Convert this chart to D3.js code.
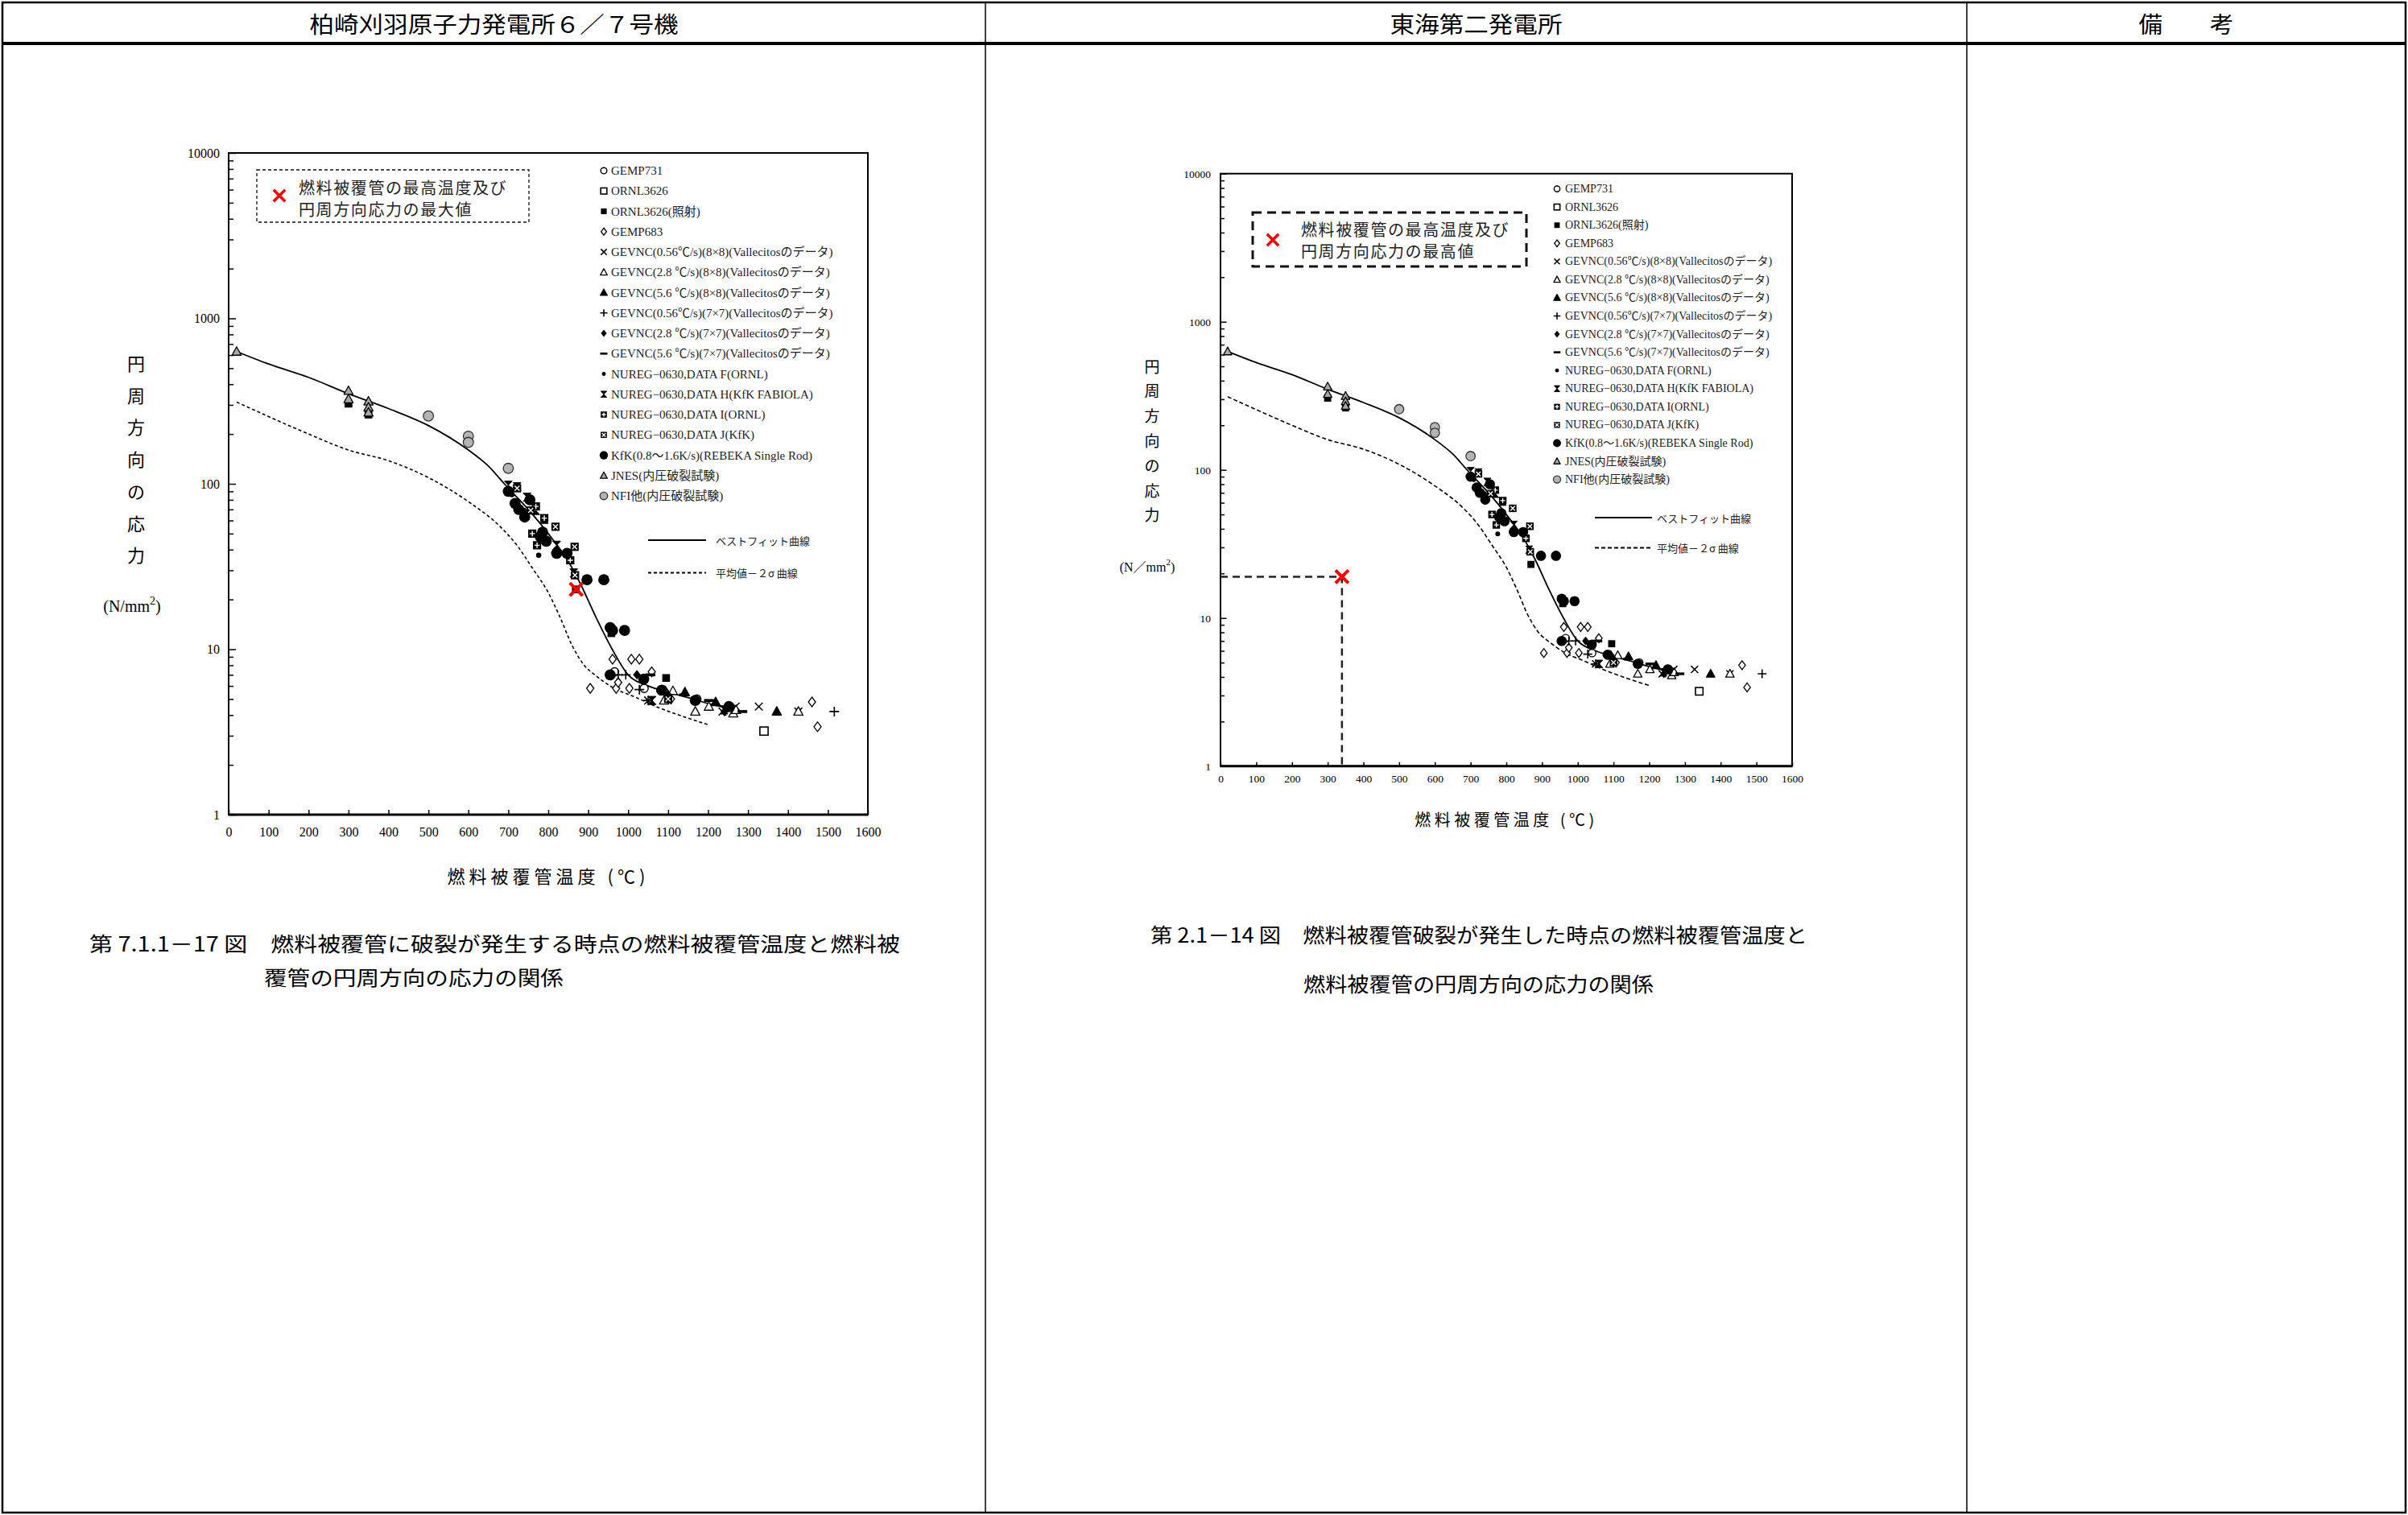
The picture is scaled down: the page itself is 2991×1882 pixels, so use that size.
<!DOCTYPE html>
<html>
<head>
<meta charset="utf-8">
<script src="https://cdn.jsdelivr.net/npm/d3@7"></script>
<style>body{margin:0;background:#fff}</style>
</head>
<body>
<div id="page"></div>
<script>
var W = 2991, H = 1882;
var serif = '"Liberation Serif","Noto Sans CJK JP",serif';
var gothic = '"Noto Sans CJK JP",sans-serif';

// ---- data (temperature degC, hoop stress N/mm2) ----
var xTicks = d3.range(0, 1700, 100);
var yTicks = [1, 10, 100, 1000, 10000];

var gemp731 = [[966,7.3],[1040,5.8],[1172,5.0]];
var ornl3626 = [[1340,3.2]];
var ornl3626irr = [[300,305],[350,262],[869,23],[958,12.5],[1095,6.7]];
var gemp683 = [[905,5.8],[961,8.7],[1008,8.7],[1028,8.7],[1059,7.3],[970,5.8],[1003,5.8],[1107,5.0],[1460,4.8],[1474,3.4],[975,6.3],[1092,5.6]];
var gevnc056_8 = [[1236,4.2],[1269,4.5],[1327,4.5],[1050,4.9],[1100,5.0],[1426,4.2]];
var gevnc28_8 = [[1090,4.9],[1112,5.6],[1168,4.2],[1202,4.5],[1263,4.1],[1426,4.2],[1270,4.3]];
var gevnc56_8 = [[1142,5.5],[1219,4.8],[1252,4.5],[1372,4.2]];
var gevnc056_7 = [[994,7.0],[1028,5.7],[1050,4.9],[1516,4.2],[975,7.0]];
var gevnc28_7 = [[1022,7.0],[1079,5.6],[1241,4.2],[1100,5.3]];
var gevnc56_7 = [[1056,7.0],[1202,4.9],[1286,4.2],[1140,5.3]];
var nuregF = [[776,37],[739,69],[709,86]];
var nuregH = [[700,98],[722,96],[747,83],[769,69],[790,61],[821,42.5],[864,28.9],[1060,4.9],[1240,4.3]];
var nuregI = [[769,73],[790,62],[760,50],[772,42.5],[855,34.5]];
var nuregJ = [[722,94],[756,69],[818,55],[866,41.6],[867,28],[1100,5.0]];
var kfk = [[700,90],[717,76],[726,70],[741,63],[754,80],[786,51],[780,48],[795,45],[821,38],[847,38],[897,26.3],[939,26.3],[961,13],[955,13.5],[991,13],[955,7.0],[1039,6.6],[1084,5.65],[1168,4.9],[1252,4.5]];
var jnes = [[20,630],[300,365],[300,325],[350,315],[350,290],[350,270]];
var nfi = [[500,257],[600,194],[600,178],[700,124]];

var bestFit = [[20,630],[100,530],[200,440],[300,350],[400,285],[500,225],[600,160],[650,128],[690,100],[750,70],[800,50],[850,34],[880,25],[920,15.5],[960,10],[1000,7.0],[1050,6.0],[1100,5.5],[1150,5.1],[1200,4.7],[1270,4.3]];
var minus2s = [[20,312],[100,255],[200,200],[300,160],[400,138],[500,109],[600,78],[680,55],[720,43],[760,31],[800,22],[830,15.5],[860,10.5],[890,8],[920,6.9],[960,5.9],[1020,5.1],[1080,4.4],[1140,3.9],[1200,3.5]];

var seriesNames = ["GEMP731","ORNL3626","ORNL3626(照射)","GEMP683",
  "GEVNC(0.56℃/s)(8×8)(Vallecitosのデータ)","GEVNC(2.8 ℃/s)(8×8)(Vallecitosのデータ)",
  "GEVNC(5.6 ℃/s)(8×8)(Vallecitosのデータ)","GEVNC(0.56℃/s)(7×7)(Vallecitosのデータ)",
  "GEVNC(2.8 ℃/s)(7×7)(Vallecitosのデータ)","GEVNC(5.6 ℃/s)(7×7)(Vallecitosのデータ)",
  "NUREG−0630,DATA F(ORNL)","NUREG−0630,DATA H(KfK FABIOLA)","NUREG−0630,DATA I(ORNL)",
  "NUREG−0630,DATA J(KfK)","KfK(0.8〜1.6K/s)(REBEKA Single Rod)","JNES(内圧破裂試験)","NFI他(内圧破裂試験)"];
var seriesData = [gemp731, ornl3626, ornl3626irr, gemp683, gevnc056_8, gevnc28_8, gevnc56_8,
  gevnc056_7, gevnc28_7, gevnc56_7, nuregF, nuregH, nuregI, nuregJ, kfk, jnes, nfi];
var seriesSymbols = ["circleOpen","squareOpen","squareFill","diamondOpen","cross","triOpen","triFill",
  "plus","diamondFill","dash","dot","hourglass","boxPlus","boxX","bigDot","triGray","circleGray"];

var headers = ["柏崎刈羽原子力発電所６／７号機", "東海第二発電所", "備　　考"];

// ---- page ----
var svg = d3.select("#page").append("svg")
    .attr("width", W).attr("height", H)
    .style("display", "block");
svg.append("rect").attr("width", W).attr("height", H).attr("fill", "#fff");

// table grid
var colX = [3, 1224, 2443, 2988];
svg.append("rect").attr("x", 3).attr("y", 3).attr("width", 2985).attr("height", 1876)
    .attr("fill", "none").attr("stroke", "#000").attr("stroke-width", 2.5);
svg.append("line").attr("x1", 3).attr("x2", 2988).attr("y1", 54).attr("y2", 54)
    .attr("stroke", "#000").attr("stroke-width", 4);
[1224, 2443].forEach(function(cx){
  svg.append("line").attr("x1", cx).attr("x2", cx).attr("y1", 3).attr("y2", 1879)
     .attr("stroke", "#000").attr("stroke-width", 1.5);
});
var headW = [458, 214, 118];
headers.forEach(function(h, i){
  svg.append("text").attr("x", (colX[i] + colX[i+1]) / 2).attr("y", 29)
     .attr("text-anchor", "middle").attr("dominant-baseline", "central")
     .attr("font-family", gothic).attr("font-size", 28)
     .attr("textLength", headW[i]).attr("lengthAdjust", "spacingAndGlyphs")
     .text(h);
});

function drawSymbol(g, type, s) {
  var k = "#000";
  if (type === "circleOpen") g.append("circle").attr("r", s*0.85).attr("fill", "#fff").attr("stroke", k).attr("stroke-width", 1.4);
  else if (type === "squareOpen") g.append("rect").attr("x", -s*0.85).attr("y", -s*0.85).attr("width", s*1.7).attr("height", s*1.7).attr("fill", "#fff").attr("stroke", k).attr("stroke-width", 1.6);
  else if (type === "squareFill") g.append("rect").attr("x", -s*0.8).attr("y", -s*0.8).attr("width", s*1.6).attr("height", s*1.6).attr("fill", k);
  else if (type === "diamondOpen") g.append("path").attr("d", `M0,${-s}L${s*0.75},0L0,${s}L${-s*0.75},0Z`).attr("fill", "#fff").attr("stroke", k).attr("stroke-width", 1.3);
  else if (type === "diamondFill") g.append("path").attr("d", `M0,${-s}L${s*0.8},0L0,${s}L${-s*0.8},0Z`).attr("fill", k);
  else if (type === "cross") g.append("path").attr("d", `M${-s*0.8},${-s*0.8}L${s*0.8},${s*0.8}M${-s*0.8},${s*0.8}L${s*0.8},${-s*0.8}`).attr("stroke", k).attr("stroke-width", 1.5);
  else if (type === "plus") g.append("path").attr("d", `M${-s},0H${s}M0,${-s}V${s}`).attr("stroke", k).attr("stroke-width", 1.6);
  else if (type === "triOpen" || type === "triFill" || type === "triGray")
    g.append("path").attr("d", `M0,${-s}L${s*0.95},${s*0.75}L${-s*0.95},${s*0.75}Z`)
     .attr("fill", type === "triOpen" ? "#fff" : type === "triFill" ? k : "#a8a8a8")
     .attr("stroke", k).attr("stroke-width", 1.3).attr("stroke-linejoin", "round");
  else if (type === "dash") g.append("rect").attr("x", -s).attr("y", -s*0.3).attr("width", s*2).attr("height", s*0.6).attr("fill", k);
  else if (type === "dot") g.append("circle").attr("r", s*0.55).attr("fill", k);
  else if (type === "bigDot") g.append("circle").attr("r", s*1.15).attr("fill", k);
  else if (type === "circleGray") g.append("circle").attr("r", s*1.05).attr("fill", "#b4b4b4").attr("stroke", "#333").attr("stroke-width", 1.3);
  else if (type === "hourglass") {
    g.append("path").attr("d", `M${-s*0.8},${-s*0.85}H${s*0.8}L${-s*0.8},${s*0.85}H${s*0.8}Z`).attr("fill", k).attr("stroke", k).attr("stroke-width", 1);
  } else if (type === "boxPlus" || type === "boxX") {
    g.append("rect").attr("x", -s*0.85).attr("y", -s*0.85).attr("width", s*1.7).attr("height", s*1.7).attr("fill", k);
    g.append("path").attr("d", type === "boxPlus"
        ? `M${-s*0.55},0H${s*0.55}M0,${-s*0.55}V${s*0.55}`
        : `M${-s*0.5},${-s*0.5}L${s*0.5},${s*0.5}M${-s*0.5},${s*0.5}L${s*0.5},${-s*0.5}`)
     .attr("stroke", "#fff").attr("stroke-width", 1.4);
  }
}

function redCross(g, cx, cy, s, w) {
  g.append("path").attr("d", `M${cx-s},${cy-s}L${cx+s},${cy+s}M${cx-s},${cy+s}L${cx+s},${cy-s}`)
   .attr("stroke", "#ff0000").attr("stroke-width", w).attr("fill", "none");
}

function drawChart(c) {
  var x = d3.scaleLinear().domain([0, 1600]).range([c.x0, c.x1]);
  var y = d3.scaleLog().domain([1, 10000]).range([c.yBot, c.yTop]);
  var g = svg.append("g");

  // x axis (ticks inside)
  g.append("g").attr("transform", `translate(0,${c.yBot})`)
    .call(d3.axisBottom(x).tickValues(xTicks).tickFormat(d3.format("d"))
      .tickSize(-c.tick).tickSizeOuter(0).tickPadding(c.xPad))
    .call(a => a.select(".domain").remove())
    .call(a => a.selectAll("line").attr("stroke", "#000").attr("stroke-width", 1.5))
    .call(a => a.selectAll("text").attr("font-family", serif).attr("font-size", c.tickFont).attr("fill", "#000"));

  // y axis (log, minor ticks inside)
  g.append("g").attr("transform", `translate(${c.x0},0)`)
    .call(d3.axisLeft(y).tickValues(y.ticks()).tickSize(-c.tick).tickSizeOuter(0).tickPadding(c.yPad)
      .tickFormat(d => yTicks.indexOf(d) >= 0 ? d : ""))
    .call(a => a.select(".domain").remove())
    .call(a => a.selectAll("line").attr("stroke", "#000").attr("stroke-width", 1.5)
      .attr("x2", d => yTicks.indexOf(d) >= 0 ? c.tick * 1.5 : c.tick))
    .call(a => a.selectAll("text").attr("font-family", serif).attr("font-size", c.tickFont).attr("fill", "#000"));

  // frame
  g.append("rect").attr("x", c.x0).attr("y", c.yTop).attr("width", c.x1 - c.x0).attr("height", c.yBot - c.yTop)
    .attr("fill", "none").attr("stroke", "#000").attr("stroke-width", c.frameW);
  g.append("line").attr("x1", c.x0).attr("x2", c.x1).attr("y1", c.yBot).attr("y2", c.yBot)
    .attr("stroke", "#000").attr("stroke-width", c.frameW + 1);

  // axis titles
  "円周方向の応力".split("").forEach(function(ch, i){
    g.append("text").attr("x", c.yLabelX).attr("y", c.yLabelY0 + i * c.yLabelStep)
      .attr("text-anchor", "middle").attr("dominant-baseline", "central")
      .attr("font-family", gothic).attr("font-size", c.yLabelFont).text(ch);
  });
  var u = g.append("text").attr("x", c.unitX).attr("y", c.unitY).attr("text-anchor", "middle")
    .attr("dominant-baseline", "central").attr("font-family", serif).attr("font-size", c.unitFont);
  u.append("tspan").text(c.unitText);
  u.append("tspan").attr("font-size", c.unitFont * 0.7).attr("dy", -c.unitFont * 0.35).text("2");
  u.append("tspan").attr("dy", c.unitFont * 0.35).text(")");

  g.append("text").attr("x", (c.x0 + c.x1) / 2).attr("y", c.xTitleY)
    .attr("text-anchor", "middle").attr("dominant-baseline", "central")
    .attr("font-family", gothic).attr("font-size", c.xTitleFont).attr("letter-spacing", c.xTitleLS)
    .text("燃料被覆管温度 (℃)");

  // curves
  var line = d3.line().x(d => x(d[0])).y(d => y(d[1])).curve(d3.curveMonotoneX);
  g.append("path").attr("d", line(bestFit)).attr("fill", "none").attr("stroke", "#000").attr("stroke-width", 1.8);
  g.append("path").attr("d", line(minus2s)).attr("fill", "none").attr("stroke", "#000").attr("stroke-width", 1.6)
    .attr("stroke-dasharray", c.curveDash);

  // red marker and guide
  if (c.guide) {
    g.append("path").attr("d", `M${x(0)},${y(c.redX[1])}H${x(c.redX[0])}V${y(1)}`)
      .attr("fill", "none").attr("stroke", "#222").attr("stroke-width", 2.5).attr("stroke-dasharray", "9,6");
  }

  // points
  seriesData.forEach(function(data, si){
    g.append("g").selectAll("g").data(data).join("g")
      .attr("transform", d => `translate(${x(d[0])},${y(d[1])})`)
      .each(function(){ drawSymbol(d3.select(this), seriesSymbols[si], c.symS); });
  });

  redCross(g, x(c.redX[0]), y(c.redX[1]), c.redS, 4);

  // legend of series
  var leg = g.append("g");
  seriesNames.forEach(function(name, i){
    var ly = c.legY0 + i * c.legStep;
    drawSymbol(leg.append("g").attr("transform", `translate(${c.legX},${ly})`), seriesSymbols[i], c.legS);
    leg.append("text").attr("x", c.legTextX).attr("y", ly).attr("dominant-baseline", "central")
      .attr("font-family", serif).attr("font-size", c.legFont).attr("fill", "#222").text(name);
  });
  // line legend
  [["ベストフィット曲線", null], ["平均値－２σ 曲線", c.curveDash]].forEach(function(r, i){
    var ly = c.lineLegY[i];
    leg.append("line").attr("x1", c.lineLegX[0]).attr("x2", c.lineLegX[1]).attr("y1", ly).attr("y2", ly)
      .attr("stroke", "#000").attr("stroke-width", 1.8).attr("stroke-dasharray", r[1]);
    leg.append("text").attr("x", c.lineLegX[2]).attr("y", ly).attr("dominant-baseline", "central")
      .attr("font-family", gothic).attr("font-size", c.lineLegFont).attr("fill", "#222").text(r[0]);
  });

  // dashed note box
  g.append("rect").attr("x", c.box[0]).attr("y", c.box[1]).attr("width", c.box[2]).attr("height", c.box[3])
    .attr("fill", "none").attr("stroke", "#111").attr("stroke-width", c.boxW).attr("stroke-dasharray", c.boxDash);
  redCross(g, c.boxX[0], c.boxX[1], c.redS * 0.9, 3.5);
  c.boxLines.forEach(function(t, i){
    g.append("text").attr("x", c.boxTextX).attr("y", c.boxTextY[i]).attr("dominant-baseline", "central")
      .attr("font-family", gothic).attr("font-size", c.boxFont).attr("letter-spacing", c.boxLS)
      .attr("fill", "#222").text(t);
  });

  // caption
  c.caption.forEach(function(t, i){
    g.append("text").attr("x", c.capX[i]).attr("y", c.capY[i]).attr("dominant-baseline", "central")
      .attr("font-family", gothic).attr("font-size", 25)
      .attr("textLength", c.capW[i]).attr("lengthAdjust", "spacingAndGlyphs").text(t);
  });
}

drawChart({
  x0: 284, x1: 1078, yTop: 190, yBot: 1012, tick: 6, frameW: 2, xPad: 16, yPad: 11, tickFont: 16,
  yLabelX: 169, yLabelY0: 450, yLabelStep: 39.7, yLabelFont: 22,
  unitX: 164, unitY: 753, unitFont: 20, unitText: "(N/mm",
  xTitleY: 1087, xTitleFont: 22, xTitleLS: 5,
  curveDash: "4,3", guide: false, redX: [870, 23], redS: 8, symS: 6,
  legX: 750, legTextX: 759, legY0: 212, legStep: 25.25, legFont: 15, legS: 4.5,
  lineLegX: [805, 877, 889], lineLegY: [671, 711.5], lineLegFont: 13,
  box: [319, 211, 338, 65], boxW: 1.3, boxDash: "4,3", boxX: [347, 243],
  boxTextX: 371, boxTextY: [232, 259], boxFont: 20, boxLS: 1.6,
  boxLines: ["燃料被覆管の最高温度及び", "円周方向応力の最大値"],
  caption: ["第 7.1.1－17 図　燃料被覆管に破裂が発生する時点の燃料被覆管温度と燃料被", "覆管の円周方向の応力の関係"],
  capX: [111, 328], capY: [1171, 1213], capW: [1007, 372]
});

drawChart({
  x0: 1516, x1: 2226, yTop: 215.7, yBot: 951.7, tick: 5, frameW: 2, xPad: 11, yPad: 12, tickFont: 13.5,
  yLabelX: 1431, yLabelY0: 454, yLabelStep: 30.8, yLabelFont: 19,
  unitX: 1425, unitY: 704, unitFont: 16, unitText: "(N／mm",
  xTitleY: 1017, xTitleFont: 20, xTitleLS: 4.5,
  curveDash: "5,3", guide: true, redX: [340, 19], redS: 8, symS: 5.5,
  legX: 1934, legTextX: 1944, legY0: 234.6, legStep: 22.56, legFont: 14, legS: 4.3,
  lineLegX: [1981, 2052, 2058], lineLegY: [643, 680.5], lineLegFont: 13,
  box: [1556, 264, 340, 67], boxW: 3, boxDash: "11,7", boxX: [1581, 298],
  boxTextX: 1616, boxTextY: [284, 311], boxFont: 20, boxLS: 1.6,
  boxLines: ["燃料被覆管の最高温度及び", "円周方向応力の最高値"],
  caption: ["第 2.1－14 図　燃料被覆管破裂が発生した時点の燃料被覆管温度と", "燃料被覆管の円周方向の応力の関係"],
  capX: [1429, 1619], capY: [1160, 1221], capW: [816, 435]
});
</script>
</body>
</html>
